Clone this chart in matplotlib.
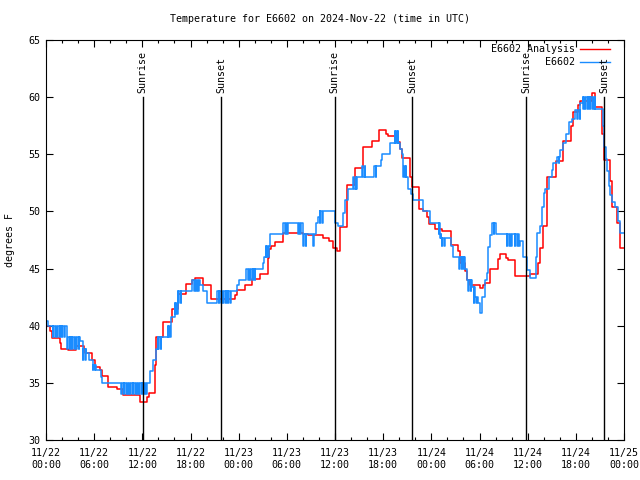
import numpy as np
import pandas as pd
import matplotlib
matplotlib.use('Agg')
import matplotlib.pyplot as plt
import matplotlib.dates as mdates

# hours after 2024-11-22 00:00 UTC, step values (deg F)
red_hours = [0.0, 0.5, 0.75, 1.74, 1.85, 2.75, 3.7, 4.7, 4.9, 5.7, 6.1, 6.7, 7.0, 7.75,
             8.8, 9.55, 11.7, 12.6, 12.8, 13.6, 13.7, 14.6, 15.65, 16.5, 17.4, 18.2,
             18.56, 19.6, 20.55, 23.5, 23.75, 24.8, 25.6, 26.65, 27.6, 27.8, 28.0, 28.5,
             29.55, 32.05, 32.6, 34.5, 35.3, 35.7, 36.2, 36.6, 37.5, 38.5, 39.5, 40.6,
             41.5, 42.4, 42.6, 43.5, 44.1, 44.4, 45.4, 45.65, 46.5, 47.0, 47.5, 47.75,
             48.45, 49.3, 50.4, 51.3, 51.6, 52.2, 52.4, 52.8, 54.1, 54.4, 54.7, 55.3,
             56.3, 56.6, 57.3, 57.5, 58.4, 60.3, 61.3, 61.5, 61.9, 62.45, 63.5, 64.4,
             65.4, 65.6, 66.3, 66.5, 68.0, 68.4, 69.3, 69.5, 70.2, 70.5, 71.1, 71.5, 72.0]
red_temps = [40.0, 39.5, 38.9, 38.5, 38.0, 37.9, 38.2, 38.0, 37.6, 37.0, 36.4, 36.1, 35.6, 34.6,
             34.5, 33.9, 33.3, 33.8, 34.1, 36.6, 39.0, 40.3, 41.5, 42.8, 43.65, 44.0,
             44.15, 43.6, 42.3, 42.7, 43.1, 43.6, 44.05, 44.5, 45.9, 46.7, 47.0, 47.35,
             48.1, 48.0, 47.9, 47.7, 47.4, 46.8, 46.5, 48.6, 52.3, 53.8, 55.6, 56.2,
             57.1, 56.8, 56.6, 56.1, 55.5, 54.7, 53.05, 52.1, 50.2, 50.0, 49.5, 48.9,
             48.5, 48.3, 47.1, 46.5, 45.45, 44.8, 44.0, 43.6, 43.3, 43.6, 43.7, 45.0,
             45.8, 46.3, 45.9, 45.75, 44.35, 44.5, 45.5, 46.8, 48.7, 53.05, 54.4, 56.2,
             57.5, 58.7, 59.3, 59.7, 60.4, 59.1, 56.8, 54.5, 52.7, 50.4, 49.0, 46.8, 46.8]

blue_hours = [0.0, 0.3, 2.6, 4.2, 4.6, 5.0, 5.4, 5.8, 6.2, 6.8, 7.0, 12.95, 13.3, 13.7,
              14.0, 15.2, 15.6, 16.1, 16.5, 18.15, 19.2, 19.6, 20.0, 21.25, 23.75, 24.0,
              24.9, 27.0, 27.2, 27.4, 27.9, 29.5, 32.05, 33.6, 33.9, 34.1, 36.0, 36.4,
              36.95, 37.25, 37.6, 38.7, 40.8, 41.2, 41.7, 41.9, 42.85, 43.5, 43.9, 44.1,
              44.3, 44.5, 44.9, 45.1, 45.5, 45.7, 46.6, 47.0, 47.8, 49.1, 50.5, 50.7,
              52.2, 52.5, 53.1, 53.5, 53.8, 54.0, 54.3, 54.7, 54.9, 55.1, 55.3, 55.5,
              56.1, 59.0, 59.4, 59.9, 60.3, 61.0, 61.2, 61.5, 61.8, 62.0, 62.2, 62.6,
              63.0, 63.2, 63.6, 64.0, 64.4, 64.8, 65.2, 65.5, 65.9, 66.5, 66.9, 68.4,
              69.4, 69.5, 69.7, 69.9, 70.1, 70.3, 70.5, 70.9, 71.2, 71.5, 72.0]
blue_temps = [40.4, 40.0, 39.0, 38.7, 38.0, 37.6, 37.0, 36.6, 36.1, 35.5, 35.0, 36.0, 37.0, 38.0,
              39.0, 40.0, 40.8, 42.0, 43.0, 44.0, 43.6, 43.0, 42.0, 43.0, 43.6, 44.0,
              45.0, 45.45, 46.0, 47.0, 48.0, 49.0, 48.0, 49.0, 49.5, 50.0, 49.0, 48.7,
              49.9, 51.0, 52.0, 53.0, 54.0, 54.0, 54.5, 55.0, 56.0, 57.0, 56.0, 55.5,
              55.0, 54.0, 53.0, 52.0, 51.5, 51.0, 51.0, 50.0, 49.0, 47.7, 47.0, 46.0,
              45.0, 44.0, 43.4, 42.5, 42.0, 41.1, 42.5, 44.0, 44.6, 46.9, 47.9, 49.0,
              48.0, 47.4, 46.0, 44.9, 44.15, 46.0, 48.1, 48.7, 50.4, 51.6, 52.0, 53.0,
              53.6, 54.2, 54.8, 55.4, 56.0, 56.8, 57.8, 58.1, 58.9, 59.5, 60.0, 59.0,
              57.5, 55.6, 54.6, 53.5, 52.2, 51.4, 50.8, 50.4, 49.2, 48.1, 48.1]

# windows where the sensor reading briefly jumps to another value
flick_start = [0.85, 2.65, 4.6, 5.8, 9.4, 14.0, 15.2, 16.1, 16.5, 18.15, 21.25, 24.9,
               27.4, 29.5, 31.4, 32.05, 33.3, 34.1, 38.3, 39.4, 40.8, 43.5, 44.5,
               48.9, 49.3, 51.5, 52.6, 53.3, 55.5, 57.4, 58.4, 63.6, 66.2, 66.9]
flick_end = [2.3, 4.2, 5.0, 6.2, 12.5, 14.5, 15.5, 16.5, 16.9, 19.2, 23.0, 26.2,
             27.9, 30.3, 32.05, 32.4, 33.5, 34.5, 38.7, 39.7, 41.2, 43.9, 44.9,
             49.3, 49.7, 52.2, 53.0, 53.8, 56.0, 58.0, 59.0, 63.9, 66.6, 68.4]
flick_alt = [39, 38, 37, 36.1, 34, 38, 39, 41, 42, 43, 42, 44,
             46, 48, 48, 47, 47, 49, 53, 54, 53, 56, 53,
             48, 47, 45, 43, 42, 48, 47, 47, 54.2, 58.1, 59]

sunrise = [12.05, 35.95, 59.8]
sunset = [21.8, 45.6, 69.5]

t0 = pd.Timestamp('2024-11-22 00:00')


def to_time(h):
    return t0 + pd.to_timedelta(np.asarray(h, dtype=float), unit='h')


def level_at(t):
    i = np.searchsorted(blue_hours, t, side='right') - 1
    return blue_temps[max(i, 0)]


# build the observed series with its short excursions
pts = list(zip(blue_hours, blue_temps))
for s, e, alt in zip(flick_start, flick_end, flick_alt):
    for t in np.arange(s, e, 0.28):
        pts.append((t, alt))
        pts.append((t + 0.07, level_at(t + 0.07)))
pts.sort(key=lambda p: p[0])
obs_h = [p[0] for p in pts]
obs_t = [p[1] for p in pts]

plt.rcParams['font.family'] = 'DejaVu Sans Mono'
fig = plt.figure(figsize=(6.4, 4.8), dpi=100)
ax = fig.add_axes([46 / 640, 40 / 480, 578 / 640, 400 / 480])

ax.plot(to_time(red_hours), red_temps, color='#ff0000', lw=1.1, drawstyle='steps-post')
ax.plot(to_time(obs_h), obs_t, color='#1a8cff', lw=1.1, drawstyle='steps-post')

for h in sunrise:
    ax.plot(to_time([h, h]), [30, 60], color='black', lw=1)
    ax.text(to_time([h])[0], 60.4, 'Sunrise', rotation=90, ha='center', va='bottom', fontsize=7.2)
for h in sunset:
    ax.plot(to_time([h, h]), [30, 60], color='black', lw=1)
    ax.text(to_time([h])[0], 60.4, 'Sunset', rotation=90, ha='center', va='bottom', fontsize=7.2)

# legend, gnuplot style (right-aligned text, sample on the right)
ax.text(0.915, 0.9775, 'E6602 Analysis', transform=ax.transAxes, ha='right', va='center', fontsize=7.2)
ax.plot([0.924, 0.976], [0.9775, 0.9775], transform=ax.transAxes, color='#ff0000', lw=1)
ax.text(0.915, 0.945, 'E6602', transform=ax.transAxes, ha='right', va='center', fontsize=7.2)
ax.plot([0.924, 0.976], [0.945, 0.945], transform=ax.transAxes, color='#1a8cff', lw=1)

ax.set_xlim(to_time([0])[0], to_time([72])[0])
ax.set_ylim(30, 65)
ax.set_yticks(np.arange(30, 66, 5))
ax.xaxis.set_major_locator(mdates.HourLocator(byhour=[0, 6, 12, 18]))
ax.xaxis.set_minor_locator(mdates.HourLocator(interval=2))
ax.xaxis.set_major_formatter(mdates.DateFormatter('%m/%d\n%H:%M'))
ax.tick_params(which='both', direction='in', top=True, right=True, labelsize=7.2, width=0.8)
ax.tick_params(which='major', length=5)
ax.tick_params(which='minor', length=2.5)
ax.tick_params(axis='x', pad=6)
ax.tick_params(axis='y', pad=4)
for sp in ax.spines.values():
    sp.set_linewidth(0.8)

fig.text(0.5, 1 - 19 / 480, 'Temperature for E6602 on 2024-Nov-22 (time in UTC)',
         ha='center', va='center', fontsize=7.2)
fig.text(10 / 640, 0.5, 'degrees F', rotation=90, ha='center', va='center', fontsize=7.2)

plt.savefig('out.png', dpi=100)
